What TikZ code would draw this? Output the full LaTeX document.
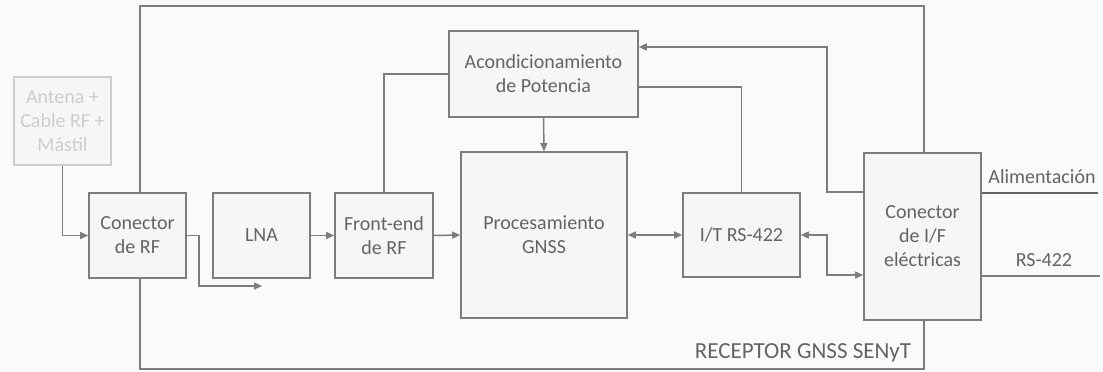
\documentclass[tikz,border=0pt]{standalone}
\usepackage{fontspec}
\setmainfont{Carlito}
\usetikzlibrary{arrows.meta}
\definecolor{txt}{RGB}{100,100,100}
\definecolor{ln}{RGB}{125,125,125}
\definecolor{lt}{RGB}{205,205,205}
\definecolor{bg}{RGB}{250,250,250}
\definecolor{boxfill}{RGB}{246,246,246}
\begin{document}
\begin{tikzpicture}[x=1pt,y=-1pt,
  blk/.style={draw=ln,line width=1.6pt,fill=boxfill,text=txt,align=center,inner sep=0pt,
    font=\fontsize{20}{24}\selectfont},
  conn/.style={draw=ln,line width=1.5pt},
  arr/.style={conn,-{Triangle[length=8pt,width=7pt]}},
  barr/.style={conn,{Triangle[length=8pt,width=7pt]}-{Triangle[length=8pt,width=7pt]}},
  lbl/.style={text=txt,font=\fontsize{20}{24}\selectfont,inner sep=0pt}]
\fill[bg] (0,0) rectangle (1103,372);
\useasboundingbox (0,0) rectangle (1103,372);
% outer receiver frame
\draw[ln,line width=1.6pt] (140,6) rectangle (924,369);
% blocks
\node[blk,draw=lt,text=lt,minimum width=97pt,minimum height=88pt] (ant) at (62.5,121) {Antena +\\Cable RF +\\Mástil};
\node[blk,minimum width=97pt,minimum height=85pt] (crf) at (137.5,235.5) {Conector\\de RF};
\node[blk,minimum width=97pt,minimum height=85pt] (lna) at (261.5,235.5) {LNA};
\node[blk,minimum width=98pt,minimum height=85pt] (fe) at (384,235.5) {Front-end\\de RF};
\node[blk,minimum width=166pt,minimum height=166pt] (proc) at (544,235) {Procesamiento\\GNSS};
\node[blk,minimum width=117pt,minimum height=84pt] (it) at (741.5,235) {I/T RS-422};
\node[blk,minimum width=117pt,minimum height=167pt] (cif) at (922.5,236.5) {Conector\\de I/F\\eléctricas};
\node[blk,minimum width=189pt,minimum height=86pt] (acond) at (543.5,74) {Acondicionamiento\\de Potencia};
% coordinates
\coordinate (k1) at (827,47);
\coordinate (k2) at (827,275);
\coordinate (k3) at (199,286);
\coordinate (k4) at (262,286);
\coordinate (alim) at (1098,193);
\coordinate (rsend) at (1100,276);
% connectors
\draw[arr] (ant.south) |- (crf.west);
\draw[arr] (crf.east) -| (k3) -- (k4);
\draw[arr] (lna.east) -- (fe.west);
\draw[arr] (fe.east) -- (proc.west);
\draw[barr] (proc.east) -- (it.west);
\draw[barr] (it.east) -| (k2) -- (cif.west |- k2);
\draw[arr] (acond.south) -- (proc.north);
\draw[conn] (acond.west) -| (fe.north);
\draw[conn] ([yshift=-13pt]acond.east) -| (it.north);
\draw[arr] ([yshift=44.5pt]cif.west) -| (k1) -- ([yshift=27pt]acond.east);
\draw[conn,draw=ln!80!black] (cif.east |- alim) -- (alim);
\draw[conn] (cif.east |- rsend) -- (rsend);
% labels
\node[lbl] (lalim) at (1042,177) {Alimentación};
\node[lbl] (lrs) at (1044,260) {RS-422};
\node[lbl,font=\fontsize{23}{27}\selectfont] (lrec) at (803,353) {RECEPTOR GNSS SENyT};
\end{tikzpicture}
\end{document}
